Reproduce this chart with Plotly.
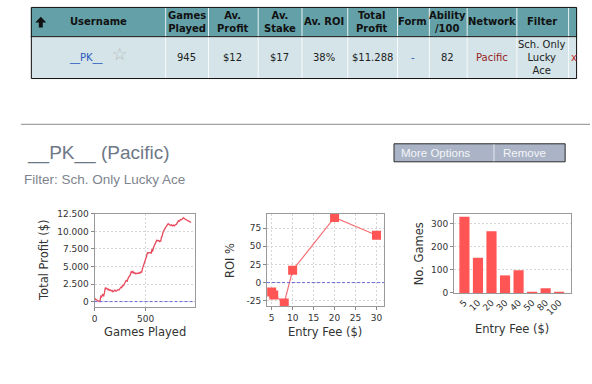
import plotly.graph_objects as go

# ---------------- data ----------------
table_headers = ["Username", "Games<br>Played", "Av.<br>Profit", "Av.<br>Stake", "Av. ROI",
                 "Total<br>Profit", "Form", "Ability<br>/100", "Network", "Filter", ""]
table_row = ["__PK__", "945", "$12", "$17", "38%", "$11.288", "-", "82", "Pacific",
             "Sch. Only<br>Lucky<br>Ace", "x"]

games_played = [0, 8, 18, 28, 40, 52, 56, 62, 70, 78, 84, 90, 98, 106, 112, 120, 128, 136, 145, 155,
                165, 172, 180, 190, 200, 210, 220, 230, 240, 250, 258, 266, 275, 284, 292, 300, 310,
                320, 330, 340, 350, 360, 368, 376, 385, 395, 405, 415, 425, 435, 445, 455, 462, 470,
                478, 486, 494, 502, 510, 518, 526, 535, 545, 555, 562, 570, 578, 586, 594, 602, 610,
                620, 630, 640, 650, 656, 662, 670, 678, 686, 694, 702, 712, 722, 732, 742, 752, 762,
                772, 782, 792, 802, 812, 822, 832, 842, 852, 862, 872, 882, 892, 902, 912, 922, 932, 945]
total_profit = [150, 380, 250, 120, 60, 0, 520, 780, 700, 980, 900, 830, 1300, 2000, 1850, 1900, 1700,
                1780, 1600, 1680, 1520, 1600, 1400, 1550, 1620, 1480, 1560, 1700, 1650, 1900, 2050,
                2000, 2300, 2250, 2600, 2750, 3000, 2900, 3350, 3500, 3800, 4250, 4150, 4300, 4050,
                4100, 3950, 4050, 4000, 4100, 4050, 4250, 4200, 4700, 5000, 5300, 5600, 6100, 6450,
                6950, 6900, 7000, 6950, 6900, 7350, 7250, 7700, 8000, 8200, 8700, 8750, 8650, 8700,
                8550, 8650, 9200, 9300, 9800, 10150, 10300, 10500, 10650, 10900, 11100, 11000, 10850,
                10950, 10800, 10900, 10800, 10950, 11000, 11250, 11500, 11450, 11700, 11650, 11850,
                11950, 11800, 11700, 11600, 11500, 11450, 11380, 11288]
profit_tickvals = [0, 2500, 5000, 7500, 10000, 12500]
profit_ticktext = ["0", "2.500", "5.000", "7.500", "10.000", "12.500"]

roi_fees = [5, 5.5, 8, 10, 20, 30]
roi_values = [-13, -17, -28, 17, 89.5, 65]
roi_tickvals = [-25, 0, 25, 50, 75]
roi_ticktext = ["-25", "0", "25", "50", "75"]

fee_categories = ["5", "10", "20", "30", "40", "50", "80", "100"]
games_per_fee = [329, 152, 266, 76, 98, 2, 20, 2]

# ---------------- helpers ----------------
W, H = 592, 384
def X(p): return p / W
def Y(p): return 1 - p / H

shapes, ann = [], []
def rect(x0, y0, x1, y1, fill=None, line=None, lw=0):
    shapes.append(dict(type="rect", xref="paper", yref="paper", x0=X(x0), x1=X(x1), y0=Y(y1), y1=Y(y0),
                       fillcolor=fill or "rgba(0,0,0,0)", line=dict(color=line or "rgba(0,0,0,0)", width=lw),
                       layer="below"))
def hline(x0, x1, y, color, w=1, layer="below"):
    shapes.append(dict(type="line", xref="paper", yref="paper", x0=X(x0), x1=X(x1), y0=Y(y), y1=Y(y),
                       line=dict(color=color, width=w), layer=layer))
def vline(x, y0, y1, color, w=1, layer="below"):
    shapes.append(dict(type="line", xref="paper", yref="paper", x0=X(x), x1=X(x), y0=Y(y0), y1=Y(y1),
                       line=dict(color=color, width=w), layer=layer))
def text(x, y, s, size=10, color="#222", family="DejaVu Sans", xanchor="center", angle=0, bold=False):
    if bold:
        s = "<b>" + s.replace("<br>", "</b><br><b>") + "</b>"
    ann.append(dict(x=X(x), y=Y(y), xref="paper", yref="paper", text=s, showarrow=False,
                    xanchor=xanchor, yanchor="middle", textangle=angle,
                    font=dict(size=size, color=color, family=family)))

# ---------------- table ----------------
col_edges = [28, 163, 206, 256, 300, 346, 396, 428, 466, 516, 568, 577]
t_top, t_mid, t_bot = 2.5, 32.5, 75.5
head_fill, body_fill = "rgb(99,160,168)", "rgb(212,228,232)"
rect(col_edges[0], t_top, col_edges[-1], t_mid, fill=head_fill)
rect(col_edges[0], t_mid, col_edges[-1], t_bot, fill=body_fill)
for e in col_edges[1:-1]:
    vline(e + 0.5, t_top, t_bot, "rgba(255,255,255,0.85)")
hline(col_edges[0], col_edges[-1], t_mid, "#1a1a1a")
rect(col_edges[0] + 0.5, t_top, col_edges[-1] - 0.5, t_bot, line="#111", lw=1)
# sort arrow
shapes.append(dict(type="path", xref="paper", yref="paper",
                   path="M {} {} L {} {} L {} {} L {} {} L {} {} L {} {} L {} {} Z".format(
                       X(38), Y(12), X(43.5), Y(18), X(40), Y(18), X(40), Y(23),
                       X(36), Y(23), X(36), Y(18), X(32.5), Y(18)),
                   fillcolor="#111", line=dict(width=0)))
for i, h in enumerate(table_headers):
    cx = (col_edges[i] + col_edges[i + 1]) / 2
    if h:
        text(cx, 17, h, size=10, color="#111", bold=True)
for i, v in enumerate(table_row):
    cx = (col_edges[i] + col_edges[i + 1]) / 2
    if i == 0:
        text(84, 54, v, size=10, color="rgb(40,90,190)")
        text(117, 50, "☆", size=17, color="#b8b8b8")
    elif v == "Pacific":
        text(cx, 54, v, size=10, color="rgb(150,30,30)")
    elif v == "x":
        text(cx + 1, 54, v, size=10, color="rgb(190,40,40)")
    elif v == "-":
        text(cx, 54, v, size=10, color="rgb(40,90,190)")
    else:
        text(cx, 54, v, size=10, color="#222")

# ---------------- section header ----------------
hline(18, 590, 122.5, "#8a8a8a", 1)
text(22, 152, "__PK__ (Pacific)", size=19, color="rgb(110,120,135)", family="Liberation Sans", xanchor="left")
text(19, 179, "Filter: Sch. Only Lucky Ace", size=13.5, color="rgb(125,132,142)",
     family="Liberation Sans", xanchor="left")
rect(393, 142.5, 565, 161, fill="rgb(170,180,198)", line="#2a2a2a", lw=1)
vline(493.5, 143, 160.5, "rgba(235,238,245,0.9)")
text(398, 152, "More Options", size=11.5, color="#f4f4f8", family="Liberation Sans", xanchor="left")
text(501, 152, "Remove", size=11.5, color="#f4f4f8", family="Liberation Sans", xanchor="left")

# ---------------- charts ----------------
fig = go.Figure()
red = "rgb(255,85,85)"
fig.add_trace(go.Scatter(x=games_played, y=total_profit, mode="lines",
                         line=dict(color="rgb(232,72,92)", width=1.3), xaxis="x", yaxis="y", hoverinfo="skip"))
fig.add_trace(go.Scatter(x=roi_fees, y=roi_values, mode="lines+markers",
                         line=dict(color="rgb(245,110,115)", width=1.2),
                         marker=dict(symbol="square", size=9, color=red), xaxis="x2", yaxis="y2", hoverinfo="skip"))
fig.add_trace(go.Bar(x=fee_categories, y=games_per_fee, marker=dict(color=red, line=dict(width=0)),
                     xaxis="x3", yaxis="y3", hoverinfo="skip"))

tickfont = dict(family="DejaVu Sans", size=9, color="#333")
def ax(domain, rng, showgrid=True, **kw):
    d = dict(domain=[domain[0], domain[1]], range=rng, showline=True, linecolor="#9a9a9a", linewidth=1,
             mirror=True, ticks="outside", ticklen=3, tickcolor="#888", tickfont=tickfont,
             showgrid=showgrid, gridcolor="#d6d6d6", griddash="2px,2px", gridwidth=1, zeroline=False,
             fixedrange=True)
    d.update(kw)
    return d

# chart 1
fig.update_layout(
    xaxis=ax((X(92), X(193)), [0, 985], tickvals=[0, 500], anchor="y"),
    yaxis=ax((Y(310), Y(214.3)), [-760, 12520], tickvals=profit_tickvals, ticktext=profit_ticktext, anchor="x"),
    xaxis2=ax((X(265.3), X(383)), [3.88, 31.8], tickvals=[5, 10, 15, 20, 25, 30], anchor="y2"),
    yaxis2=ax((Y(309.5), Y(214.3)), [-32.8, 94.7], tickvals=roi_tickvals, ticktext=roi_ticktext, anchor="x2"),
    xaxis3=ax((X(453.3), X(570.7)), [-0.77, 7.86], showgrid=False, type="category", tickangle=-45,
              anchor="y3", ticks=""),
    yaxis3=ax((Y(295.7), Y(214.3)), [0, 342], tickvals=[0, 100, 200, 300], anchor="x3"),
    bargap=0.25,
)
for xr, yr in (("x domain", "y"), ("x2 domain", "y2")):
    shapes.append(dict(type="line", xref=xr, yref=yr, x0=0, x1=1, y0=0, y1=0,
                       line=dict(color="rgb(105,105,215)", width=1, dash="3px,2px"), layer="above"))

tf = 11.5
text(143, 336, "Games Played", size=tf, color="#333")
text(41, 262, "Total Profit ($)", size=tf, color="#333", angle=-90)
text(324, 336, "Entry Fee ($)", size=tf, color="#333")
text(228, 262, "ROI %", size=tf, color="#333", angle=-90)
text(512, 333, "Entry Fee ($)", size=tf, color="#333")
text(418, 255, "No. Games", size=tf, color="#333", angle=-90)

fig.update_layout(width=W, height=H, margin=dict(l=0, r=0, t=0, b=0), paper_bgcolor="white",
                  plot_bgcolor="white", showlegend=False, shapes=shapes, annotations=ann)
fig.write_html("out.html", config={"displayModeBar": False})
